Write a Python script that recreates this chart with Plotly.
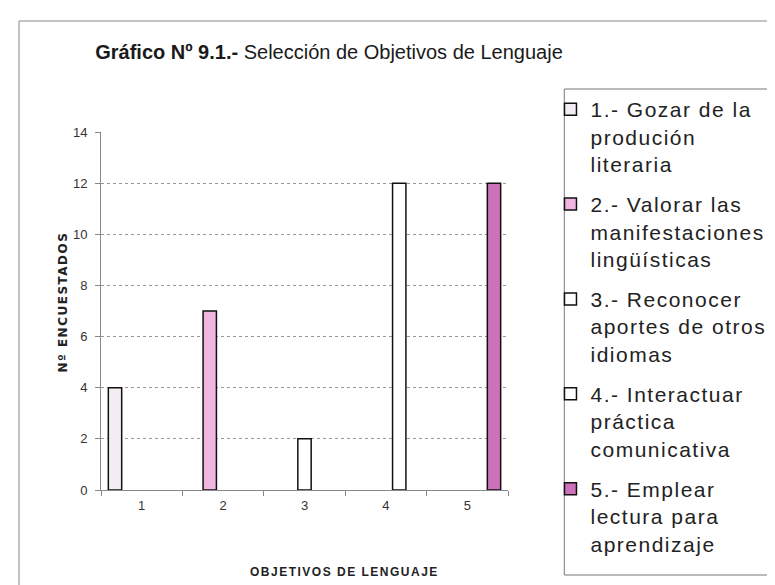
import plotly.graph_objects as go

CATEGORIES = ["1", "2", "3", "4", "5"]
COUNTS = [4, 7, 2, 12, 12]
LEGEND_LINES = [
    ["1.- Gozar de la", "produción", "literaria"],
    ["2.- Valorar las", "manifestaciones", "lingüísticas"],
    ["3.- Reconocer", "aportes de otros", "idiomas"],
    ["4.- Interactuar", "práctica", "comunicativa"],
    ["5.- Emplear", "lectura para", "aprendizaje"],
]
COLORS = ["#F4ECF4", "#F1B5E1", "#FFFFFF", "#FFFFFF", "#CD72B8"]
Y_TICKS = [0, 2, 4, 6, 8, 10, 12, 14]

W, H = 775, 585
L, R, T, B = 93, 270, 124, 103
PW, PH = W - L - R, H - T - B


def px_x(x):
    return (x - L) / PW


def px_y(y):
    return (H - B - y) / PH


def spaced(lines, spacing="1.5px"):
    return "<br>".join(f"<span style='letter-spacing:{spacing}'>{line}</span>" for line in lines)


fig = go.Figure()
for i, cat in enumerate(CATEGORIES):
    # one series per objective, only its own category carries a value
    values = [COUNTS[i] if j == i else None for j in range(len(CATEGORIES))]
    fig.add_trace(
        go.Bar(
            x=CATEGORIES,
            y=values,
            name=spaced(LEGEND_LINES[i]),
            legendgroup=f"g{i}",
            offsetgroup=str(i),
            marker=dict(color=COLORS[i], line=dict(color="#111111", width=1.5)),
        )
    )

fig.update_layout(
    width=W,
    height=H,
    margin=dict(l=L, r=R, t=T, b=B),
    paper_bgcolor="white",
    plot_bgcolor="white",
    barmode="group",
    bargap=0.18,
    bargroupgap=0,
    font=dict(family="Liberation Sans, Arial, sans-serif", color="#222222"),
    title=dict(
        text="<b>Gráfico Nº 9.1.-</b> Selección de Objetivos de Lenguaje",
        x=321 / W,
        xanchor="center",
        y=1 - 44 / H,
        yanchor="middle",
        font=dict(family="Liberation Sans, Arial, sans-serif", size=20, color="#1a1a1a"),
    ),
    legend=dict(
        x=px_x(548),
        xanchor="left",
        y=px_y(81),
        yanchor="top",
        valign="top",
        bgcolor="rgba(0,0,0,0)",
        borderwidth=0,
        tracegroupgap=10,
        maxheight=520,
        font=dict(family="Liberation Sans, Arial, sans-serif", size=21, color="#222222"),
    ),
    showlegend=True,
)

fig.update_xaxes(
    type="category",
    showline=True,
    linecolor="#888888",
    linewidth=1,
    showgrid=False,
    ticks="outside",
    tickson="boundaries",
    ticklen=5,
    tickcolor="#888888",
    ticklabelstandoff=3,
    tickfont=dict(size=13, color="#333333"),
)
fig.update_yaxes(
    range=[0, 14],
    tickvals=Y_TICKS,
    showline=True,
    linecolor="#888888",
    linewidth=1,
    showgrid=True,
    gridcolor="#999999",
    griddash="3px,3px",
    gridwidth=1,
    ticks="outside",
    ticklen=5,
    tickcolor="#888888",
    ticklabelstandoff=5,
    zeroline=False,
    tickfont=dict(size=13, color="#333333"),
)

fig.add_annotation(
    text="<b><span style='letter-spacing:1.5px'>Nº ENCUESTADOS</span></b>",
    textangle=-90,
    x=px_x(45),
    y=px_y(294),
    xref="paper",
    yref="paper",
    showarrow=False,
    font=dict(family="DejaVu Sans, sans-serif", size=12, color="#222222"),
)
fig.add_annotation(
    text="<b><span style='letter-spacing:1.5px'>OBJETIVOS DE LENGUAJE</span></b>",
    x=px_x(339),
    y=px_y(573),
    xref="paper",
    yref="paper",
    showarrow=False,
    font=dict(family="Liberation Sans, Arial, sans-serif", size=12, color="#222222"),
)

# outer chart frame and legend frame
fig.add_shape(
    type="rect", xref="paper", yref="paper",
    x0=px_x(10), x1=px_x(772), y0=px_y(584), y1=px_y(13),
    line=dict(color="#888888", width=1), layer="below",
)
fig.add_shape(
    type="rect", xref="paper", yref="paper",
    x0=px_x(562), x1=px_x(770), y0=px_y(567), y1=px_y(81),
    line=dict(color="#777777", width=1), layer="below",
)

fig.write_html("out.html")
